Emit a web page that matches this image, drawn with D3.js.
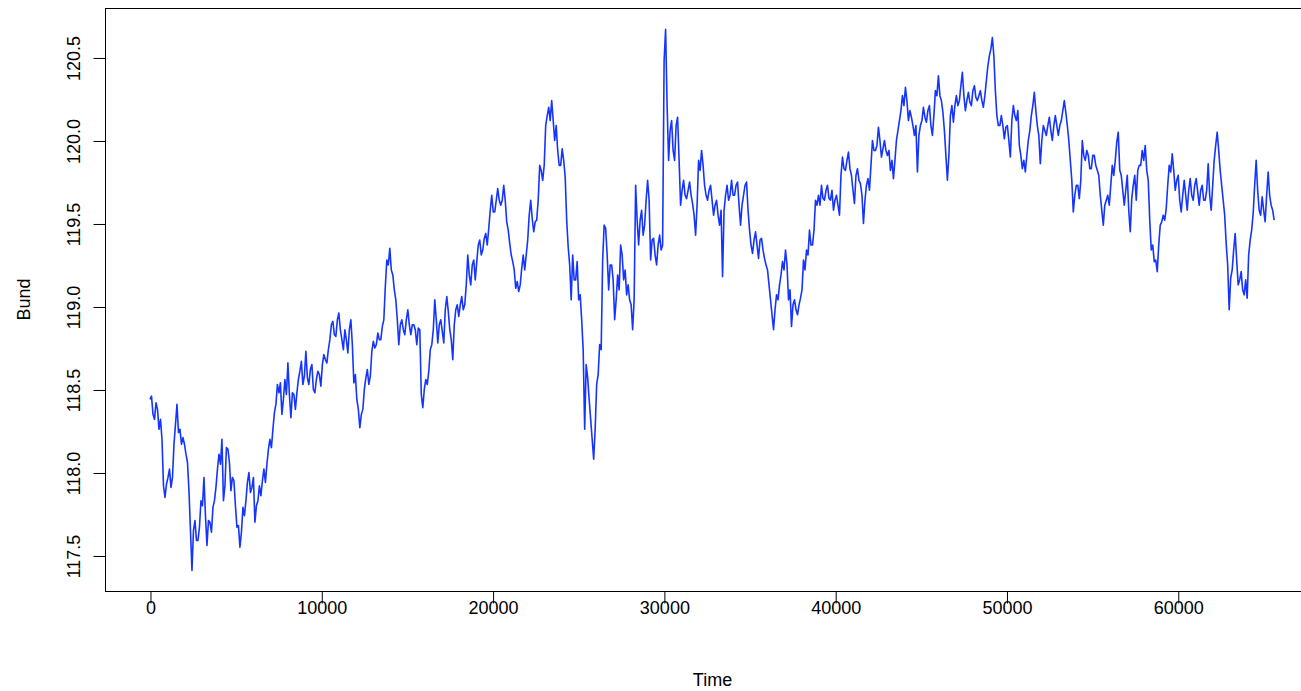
<!DOCTYPE html>
<html><head><meta charset="utf-8">
<script src="https://cdn.jsdelivr.net/npm/d3@7"></script>
<style>
body{margin:0;background:#fff}
svg{display:block}
text{font-family:"Liberation Sans",Arial,Helvetica,sans-serif;fill:#000}
</style>
</head><body>
<svg id="chart" width="1301" height="691"></svg>
<script>
// ---- data ----
const xTickValues = [0, 10000, 20000, 30000, 40000, 50000, 60000];
const yTickValues = [117.5, 118.0, 118.5, 119.0, 119.5, 120.0, 120.5];
const yTickLabels = ["117.5", "118.0", "118.5", "119.0", "119.5", "120.0", "120.5"];
const xLabel = "Time";
const yLabel = "Bund";
const startTime = 1;      // first observation index
const timeStep = 175;     // observations between two samples of `bund`
// samples read every 175 observations
const bund = [
118.44,118.35,118.42,118.26,118.20,117.85,117.97,117.91,118.17,118.41,
118.26,118.21,118.11,117.89,117.41,117.71,117.59,117.83,117.97,117.56,
117.70,117.79,117.91,118.11,118.20,117.92,118.14,117.89,117.95,117.67,
117.55,117.79,117.83,118.00,117.91,117.70,117.83,117.86,118.02,118.05,
118.20,118.26,118.41,118.48,
118.35,118.56,118.66,118.33,118.47,118.48,118.61,118.53,118.73,118.53,
118.65,118.48,118.61,118.52,118.71,118.66,118.80,118.91,118.82,118.96,
118.80,118.86,118.72,118.92,118.54,118.44,118.27,118.38,118.57,118.53,
118.73,118.75,118.84,118.80,118.92,119.28,119.35,119.19,119.04,118.77,
118.92,118.83,118.98,
118.83,118.89,118.77,118.86,118.39,118.56,118.61,118.77,119.04,118.78,
118.92,118.78,119.06,118.86,118.68,118.98,118.94,119.06,119.01,119.31,
119.13,119.28,119.27,119.40,119.34,119.44,119.47,119.67,119.57,119.71,
119.61,119.73,119.51,119.38,119.27,119.11,119.09,119.23,119.22,119.40,
119.64,119.45,119.52,119.85,
119.76,120.09,120.20,120.24,120.00,119.94,119.85,119.88,119.52,119.25,
119.31,119.16,119.04,118.92,118.26,118.57,118.32,118.08,118.53,118.77,
119.28,119.47,119.10,119.25,118.92,119.19,119.37,119.16,119.07,119.04,
118.86,119.73,119.37,119.58,119.49,119.76,119.28,119.41,119.25,119.43,
119.37,120.67,119.88,
120.12,119.88,120.14,119.61,119.76,119.65,119.75,119.62,119.43,119.88,
119.94,119.73,119.64,119.73,119.55,119.64,119.49,119.18,119.67,119.64,
119.76,119.67,119.75,119.49,119.67,119.75,119.46,119.32,119.45,119.29,
119.41,119.29,119.22,119.04,118.86,119.07,119.13,119.27,119.34,119.04,
118.88,119.04,118.95,119.05,119.28,119.34,119.46,119.37,119.64,119.67,
119.73,119.64,119.73,119.64,119.58,119.67,119.55,119.90,119.82,119.93,
119.79,119.62,119.83,119.74,119.50,119.73,119.70,120.00,119.94,120.08,
119.90,120.00,119.91,119.82,119.77,120.00,120.12,120.27,120.32,120.12,
120.14,120.03,119.81,120.09,120.20,120.11,120.21,
120.03,120.30,120.39,120.24,120.06,119.76,120.15,120.11,120.27,120.24,
120.41,120.18,120.29,120.21,120.33,120.24,120.30,120.20,120.36,120.51,
120.62,120.30,120.09,120.15,120.01,120.09,119.90,120.21,120.12,119.97,
119.83,119.81,120.00,120.15,120.29,120.09,119.86,120.09,120.03,120.14,
120.00,120.15,120.03,
120.12,120.24,120.09,119.88,119.57,119.73,119.65,120.00,119.88,119.91,
119.83,119.91,119.82,119.67,119.49,119.64,119.61,119.85,119.88,120.05,
119.79,119.61,119.79,119.45,119.73,119.64,119.85,119.94,119.97,119.76,
119.34,119.27,119.21,119.49,119.55,119.59,119.85,119.92,119.70,119.79,
119.57,119.76,119.58,
119.77,119.64,119.77,119.61,119.73,119.64,119.86,119.58,119.88,120.05,
119.82,119.64,119.38,118.98,119.22,119.44,119.13,119.21,119.07,119.05,
119.40,119.56,119.88,119.58,119.66,119.51,119.81,119.61,119.52
];
// samples read halfway between two consecutive `bund` samples
const bundBetween = [
118.46,118.32,118.38,118.32,117.92,117.93,118.02,117.97,118.29,118.24,
118.17,118.17,118.06,117.65,117.65,117.59,117.67,117.80,117.74,117.71,
117.64,117.83,118.02,118.05,117.83,118.15,118.06,117.97,117.80,117.68,
117.64,117.74,117.94,117.88,117.97,117.80,117.92,117.95,117.94,118.14,
118.15,118.36,118.53,118.54,
118.44,118.47,118.47,118.48,118.38,118.56,118.67,118.58,118.57,118.62,
118.50,118.56,118.59,118.65,118.68,118.74,118.89,118.83,118.92,118.86,
118.74,118.80,118.86,118.77,118.59,118.38,118.35,118.50,118.62,118.58,
118.79,118.77,118.80,118.88,119.12,119.25,119.22,119.10,118.92,118.89,
118.86,118.92,118.89,
118.89,118.86,118.87,118.47,118.50,118.53,118.74,118.86,118.92,118.89,
118.85,118.98,118.97,118.80,118.89,119.01,119.01,118.98,119.13,119.19,
119.25,119.16,119.37,119.31,119.41,119.37,119.58,119.57,119.64,119.64,
119.64,119.64,119.46,119.31,119.22,119.15,119.13,119.31,119.31,119.55,
119.53,119.51,119.64,119.82,
119.85,120.15,120.12,120.12,120.09,119.85,119.95,119.78,119.36,119.04,
119.16,119.27,119.07,118.74,118.65,118.44,118.20,118.26,118.59,118.74,
119.49,119.31,119.25,119.16,119.04,119.10,119.31,119.22,119.13,119.01,
119.04,119.52,119.52,119.43,119.64,119.64,119.40,119.31,119.37,119.34,
120.48,120.21,120.06,
119.94,120.09,119.88,119.70,119.67,119.70,119.67,119.55,119.61,119.82,
119.85,119.67,119.70,119.64,119.61,119.55,119.58,119.58,119.73,119.67,
119.67,119.73,119.61,119.61,119.73,119.58,119.37,119.40,119.37,119.40,
119.34,119.25,119.13,118.95,118.98,119.04,119.19,119.22,119.25,119.10,
119.01,118.98,119.01,119.10,119.22,119.31,119.37,119.46,119.61,119.61,
119.65,119.70,119.65,119.70,119.64,119.61,119.79,119.83,119.88,119.83,
119.70,119.79,119.76,119.67,119.64,119.77,119.85,119.94,119.97,120.00,
119.95,119.94,119.94,119.88,119.88,120.06,120.18,120.21,120.24,120.18,
120.09,120.09,120.03,120.12,120.14,120.18,120.09,
120.15,120.27,120.27,120.17,119.91,119.91,120.21,120.21,120.21,120.33,
120.27,120.24,120.23,120.30,120.26,120.27,120.24,120.27,120.45,120.55,
120.51,120.15,120.09,120.09,120.08,120.00,120.12,120.15,120.18,119.91,
119.88,119.91,120.06,120.21,120.18,120.03,120.00,120.06,120.09,120.06,
120.09,120.09,120.09,
120.18,120.17,120.00,119.76,119.67,119.73,119.76,119.91,119.94,119.83,
119.91,119.85,119.79,119.58,119.61,119.67,119.73,119.79,119.99,119.82,
119.70,119.70,119.58,119.65,119.79,119.82,119.85,119.88,119.82,119.52,
119.37,119.28,119.37,119.51,119.52,119.73,119.81,119.82,119.76,119.64,
119.67,119.67,119.70,
119.67,119.73,119.69,119.70,119.64,119.70,119.67,119.73,119.97,119.94,
119.73,119.55,119.25,119.17,119.34,119.28,119.16,119.10,119.16,119.31,
119.46,119.73,119.70,119.55,119.58,119.67,119.67,119.58
];

// ---- layout ----
const W = 1301, H = 691;
const plot = {left: 105, right: 1320, top: 8, bottom: 591};
const lineColor = "#1535ff";
const fontSize = 18;

const series = [];
bund.forEach((v, i) => {
  const t = startTime + i * timeStep;
  series.push({t, v});
  if (i < bundBetween.length) series.push({t: t + timeStep / 2, v: bundBetween[i]});
});

const nObs = 65676;
const x = d3.scaleLinear()
  .domain([startTime - 0.04 * (nObs - startTime), nObs + 0.04 * (nObs - startTime)])
  .range([plot.left, plot.right]);
const y = d3.scaleLinear().domain([117.286, 120.798]).range([plot.bottom, plot.top]);

const svg = d3.select("#chart");
svg.append("rect").attr("width", W).attr("height", H).attr("fill", "#fff");

// series line
svg.append("path")
  .datum(series)
  .attr("fill", "none")
  .attr("stroke", lineColor)
  .attr("stroke-width", 1.6)
  .attr("stroke-linejoin", "round")
  .attr("d", d3.line().x(d => x(d.t)).y(d => y(d.v)));

// frame
svg.append("rect")
  .attr("x", plot.left + 0.5).attr("y", plot.top + 0.5)
  .attr("width", plot.right - plot.left).attr("height", plot.bottom - plot.top)
  .attr("fill", "none").attr("stroke", "#000").attr("stroke-width", 1);

// x axis
const xAxis = d3.axisBottom(x).tickValues(xTickValues).tickFormat(d3.format("d")).tickSize(12).tickPadding(6);
const gx = svg.append("g").attr("transform", `translate(0.5,${plot.bottom + 0.5})`).call(xAxis);
gx.select(".domain").remove();
gx.selectAll(".tick line").attr("stroke", "#000");
gx.selectAll(".tick text").attr("font-size", fontSize).attr("font-family", null).attr("dy", null).attr("y", 22);

// y axis
const yAxis = d3.axisLeft(y).tickValues(yTickValues).tickFormat((d, i) => yTickLabels[i]).tickSize(12);
const gy = svg.append("g").attr("transform", `translate(${plot.left + 0.5},0.5)`).call(yAxis);
gy.select(".domain").remove();
gy.selectAll(".tick line").attr("stroke", "#000");
gy.selectAll(".tick text")
  .attr("font-size", fontSize).attr("font-family", null)
  .attr("x", null).attr("dy", null)
  .attr("text-anchor", "middle")
  .attr("transform", "translate(-26,0) rotate(-90)");

// axis titles
svg.append("text").attr("x", (plot.left + plot.right) / 2).attr("y", 686)
  .attr("text-anchor", "middle").attr("font-size", fontSize).text(xLabel);
svg.append("text").attr("transform", `translate(30,${(plot.top + plot.bottom) / 2}) rotate(-90)`)
  .attr("text-anchor", "middle").attr("font-size", fontSize).text(yLabel);
</script>
</body></html>
